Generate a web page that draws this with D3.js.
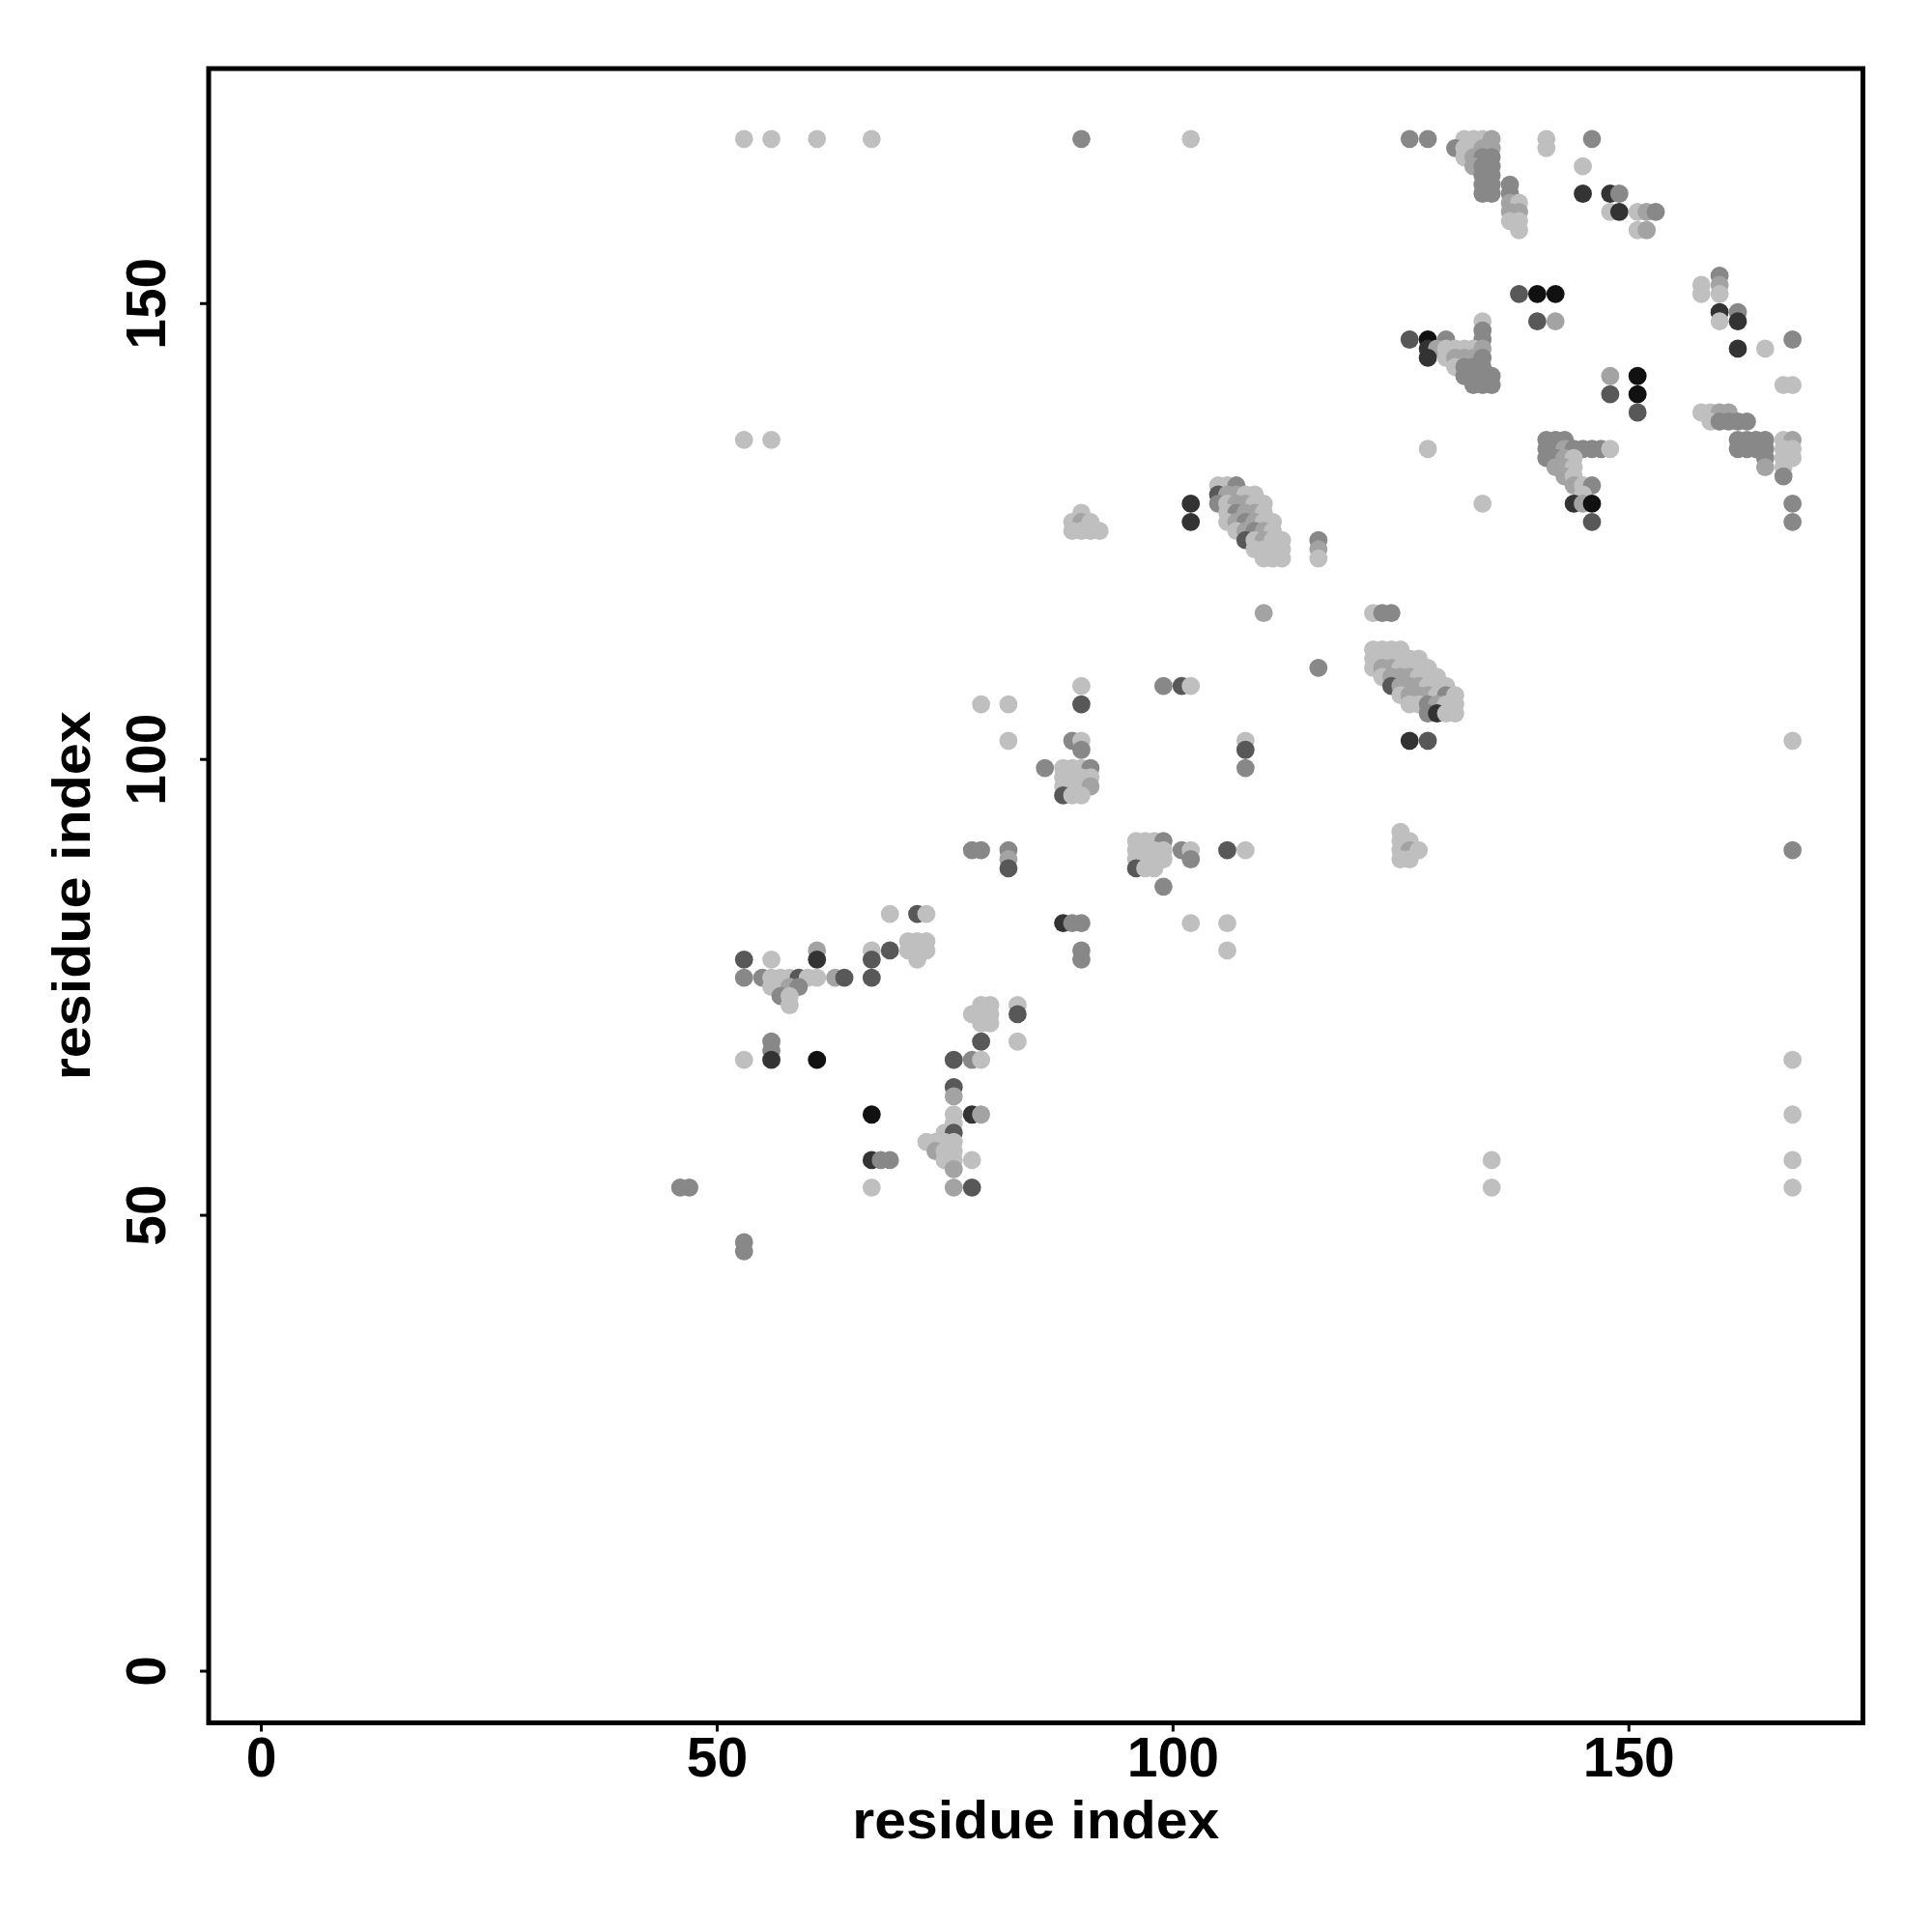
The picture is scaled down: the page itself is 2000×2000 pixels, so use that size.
<!DOCTYPE html>
<html><head><meta charset="utf-8">
<script src="https://cdn.jsdelivr.net/npm/d3@7"></script>
<style>body{margin:0;background:#fff}</style>
</head><body>
<svg id="chart" width="2000" height="2000" xmlns="http://www.w3.org/2000/svg"></svg>
<script>
// ---- data: predicted contacts, grouped by row (residue j) ----
const rowJ = [168,167,166,165,164,163,162,161,160,159,158,153,152,151,149,148,147,146,145,144,143,142,141,140,138,137,135,134,133,132,131,130,129,128,127,126,125,124,123,122,116,112,111,110,109,108,107,106,105,102,101,99,98,97,96,92,91,90,89,88,86,83,82,80,79,78,76,75,74,73,72,71,69,68,67,64,63,61,60,59,58,57,56,55,53,47,46];
const rowI = [
 [53,56,61,67,90,102,126,128,132,133,134,135,141,146],
 [131,132,133,134,135,141],
 [132,133,134,135],
 [133,134,135,145],
 [134,135],
 [134,135,137],
 [134,135,137,145,148,149],
 [137,138],
 [137,138,148,149,151,152,153],
 [137,138],
 [138,151,152],
 [160],
 [158,160],
 [138,140,142,158,160],
 [160,162],
 [134,140,142,160,162],
 [134],
 [126,128,130,134,168],
 [128,129,130,131,132,133,134,162,165],
 [128,130,131,132,133,134],
 [131,132,133,134],
 [132,133,134,135,148,151],
 [133,134,135,167,168],
 [148,151],
 [151,158,159,160,161],
 [159,160,161,162,163],
 [53,56,141,142,143,162,163,164,165,167,168],
 [128,141,142,143,144,145,146,147,148,162,163,164,165,167,168],
 [141,142,143,144,165,167,168],
 [142,143,144,165,167],
 [143,144,167],
 [105,106,107,144,145,146],
 [105,106,107,108,109,145],
 [102,105,106,107,108,109,110,134,144,145,146,168],
 [90,106,107,108,109,110],
 [89,90,91,102,106,107,108,109,110,111,146,168],
 [89,90,91,92,107,108,109,110,111],
 [108,109,110,111,112,116],
 [109,110,111,112,116],
 [110,111,112,116],
 [110,122,123,124],
 [122,123,124,125],
 [122,123,124,125,126,127],
 [116,122,123,124,125,126,127,128],
 [123,124,125,126,127,128,129],
 [90,99,101,102,124,125,126,127,128,129,130],
 [125,126,127,128,129,130,131],
 [79,82,90,126,127,128,129,130,131],
 [128,129,130,131],
 [82,89,90,108,126,128,168],
 [90,108],
 [86,88,89,90,91,108],
 [88,89,90,91],
 [88,89,90,91],
 [88,89,90],
 [125],
 [96,97,98,99,125,126],
 [78,79,82,96,97,98,99,101,102,106,108,125,126,127,168],
 [82,96,97,98,99,102,125,126],
 [82,96,97,98],
 [99],
 [69,72,73],
 [88,89,90,102,106],
 [71,72,73],
 [61,67,69,71,72,73,90,106],
 [53,56,61,67,72,90],
 [53,55,56,57,58,59,60,61,63,64,67],
 [56,57,58,59],
 [57,58],
 [58,79,80,83],
 [78,79,80,83],
 [79,80],
 [56,79,83],
 [56],
 [53,56,61,76,78,79,168],
 [76],
 [76],
 [67,76,78,79,168],
 [76],
 [75,76],
 [73,74,75,76],
 [74,75,76],
 [67,68,69,75,76,78,135,168],
 [76],
 [46,47,67,76,78,135,168],
 [53],
 [53]
];
// contact confidence class per point (0 = strongest ... 5 = weakest)
const rowClass = [
 [5,5,5,5,3,5,3,3,5,5,5,4,5,3],
 [3,5,5,4,4,5],
 [5,4,3,3],
 [4,3,3,5],
 [3,3],
 [3,3,3],
 [3,3,3,1,1,3],
 [4,5],
 [4,4,5,1,5,4,3],
 [5,5],
 [5,5,4],
 [3],
 [5,4],
 [2,0,0,5,5],
 [1,3],
 [5,2,4,5,1],
 [3],
 [2,0,3,3,3],
 [1,4,5,5,5,5,4,1,5],
 [1,5,4,4,4,3],
 [5,3,3,3],
 [3,3,3,3,4,0],
 [3,3,3,5,5],
 [2,0],
 [2,5,5,4,4],
 [5,3,3,3,3],
 [5,5,3,3,3,3,3,3,3,5,4],
 [5,3,3,4,3,3,3,3,5,3,3,3,3,5,5],
 [3,3,4,5,3,5,5],
 [4,4,5,4,5],
 [4,5,3],
 [5,5,3,4,5,3],
 [2,4,4,5,5,5],
 [1,3,5,4,4,5,5,5,1,4,0,3],
 [5,5,3,4,4,5],
 [5,4,5,1,5,4,3,4,5,5,2,3],
 [5,5,5,5,5,4,3,4,5],
 [2,5,4,5,5,3],
 [5,5,5,5,4],
 [5,5,5,5],
 [4,5,3,3],
 [5,5,5,5],
 [5,5,5,5,5,5],
 [3,5,4,4,5,5,5,5],
 [5,4,4,4,5,5,5],
 [5,3,2,5,2,4,4,4,5,5,5],
 [5,4,4,4,5,3,5],
 [5,5,2,5,5,3,4,5,5],
 [3,1,5,5],
 [5,3,5,5,1,2,5],
 [3,2],
 [3,5,5,5,3,3],
 [5,5,5,5],
 [5,5,5,4],
 [2,5,5],
 [5],
 [5,5,5,3,5,5],
 [3,3,3,5,5,5,5,3,5,2,5,5,4,5,3],
 [4,5,5,5,5,3,5,5],
 [2,2,5,5],
 [3],
 [5,2,5],
 [1,3,3,5,5],
 [5,5,5],
 [4,5,2,5,5,5,3,5],
 [2,5,1,2,5,3],
 [3,3,5,5,5,2,5,5,4,2,2],
 [5,5,4,3],
 [3,5],
 [5,5,5,5],
 [5,5,5,2],
 [5,5],
 [3,2,5],
 [3],
 [5,1,0,2,3,5,5],
 [2],
 [4],
 [0,5,1,4,5],
 [5],
 [5,2],
 [5,5,5,5],
 [4,5,5],
 [1,3,3,5,5,5,5,5],
 [4],
 [3,3,5,4,2,5,5],
 [3],
 [3]
];
const scoreByClass = [0.98, 0.79, 0.59, 0.33, 0.18, 0.03];
const xTicks = [0, 50, 100, 150];
const yTicks = [0, 50, 100, 150];
const xTitle = "residue index";
const yTitle = "residue index";
const seqRange = [1, 169];

// ---- layout ----
const svg = d3.select("#chart");
const mLeft = 216, mRight = 1928.5, mTop = 71, mBottom = 1783.5;
const pad = (seqRange[1] - seqRange[0]) * 0.04;
const x = d3.scaleLinear().domain([seqRange[0] - pad, seqRange[1] + pad]).range([mLeft, mRight]);
const y = d3.scaleLinear().domain([seqRange[0] - pad, seqRange[1] + pad]).range([mBottom, mTop]);
const gray = d3.scaleLinear().domain([0, 1]).range(["#c4c4c4", "#0d0d0d"]);
const font = "'Liberation Sans', Arial, Helvetica, sans-serif";

const points = [];
const problems = [];
rowJ.forEach((j, r) => {
  const is = rowI[r] || [], cs = rowClass[r] || [];
  if (is.length !== cs.length) problems.push(`row j=${j}: ${is.length} vs ${cs.length}`);
  is.forEach((i, k) => points.push({i, j, s: scoreByClass[cs[k] === undefined ? 5 : cs[k]]}));
});
if (rowI.length !== rowJ.length || rowClass.length !== rowJ.length)
  problems.push(`rows: J ${rowJ.length}, I ${rowI.length}, class ${rowClass.length}`);

svg.append("g").selectAll("circle").data(points).join("circle")
  .attr("cx", d => x(d.i)).attr("cy", d => y(d.j)).attr("r", 9.4)
  .attr("fill", d => gray(d.s));

// box
svg.append("rect").attr("x", mLeft).attr("y", mTop)
  .attr("width", mRight - mLeft).attr("height", mBottom - mTop)
  .attr("fill", "none").attr("stroke", "#000").attr("stroke-width", 5);

// x axis
const gx = svg.append("g").attr("transform", `translate(0,${mBottom})`)
  .call(d3.axisBottom(x).tickValues(xTicks).tickSize(9).tickSizeOuter(0).tickFormat(d3.format("d")));
gx.select(".domain").remove();
gx.attr("font-size", 57).attr("font-family", font).attr("font-weight", "bold");
gx.selectAll(".tick line").attr("stroke", "#000").attr("stroke-width", 3);
gx.selectAll(".tick text").attr("y", 55.5).attr("dy", 0).attr("fill", "#000");

// y axis
const gy = svg.append("g").attr("transform", `translate(${mLeft},0)`)
  .call(d3.axisLeft(y).tickValues(yTicks).tickSize(9).tickSizeOuter(0).tickFormat(d3.format("d")));
gy.select(".domain").remove();
gy.attr("font-size", 57).attr("font-family", font).attr("font-weight", "bold");
gy.selectAll(".tick line").attr("stroke", "#000").attr("stroke-width", 3);
gy.selectAll(".tick text").attr("transform", "rotate(-90)").attr("x", 0).attr("y", -45)
  .attr("dy", 0).attr("text-anchor", "middle").attr("fill", "#000");

// titles
svg.append("text").attr("x", (mLeft + mRight) / 2).attr("y", 1903)
  .attr("text-anchor", "middle").attr("font-family", font).attr("font-weight", "bold")
  .attr("font-size", 55).attr("textLength", 380).attr("lengthAdjust", "spacingAndGlyphs")
  .text(xTitle);
svg.append("text").attr("transform", `translate(93,${(mTop + mBottom) / 2}) rotate(-90)`)
  .attr("text-anchor", "middle").attr("font-family", font).attr("font-weight", "bold")
  .attr("font-size", 55).attr("textLength", 382).attr("lengthAdjust", "spacingAndGlyphs")
  .text(yTitle);

if (problems.length) throw new Error("data mismatch: " + problems.join("; "));
</script>
</body></html>
